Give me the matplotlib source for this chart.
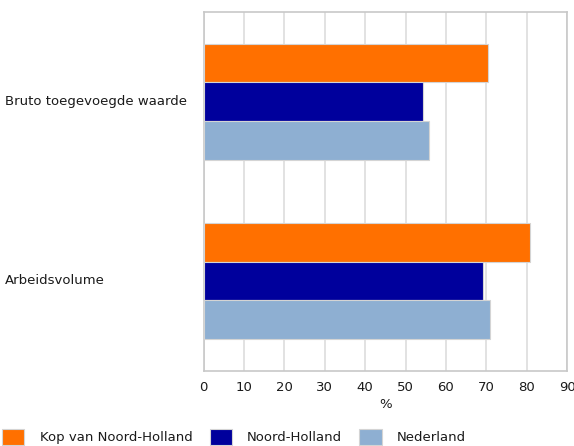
import numpy as np
import matplotlib
matplotlib.use("Agg")
import matplotlib.pyplot as plt
from matplotlib.patches import Patch

# ── Data ──────────────────────────────────────────────────────────────────────
categories = ["Bruto toegevoegde waarde", "Arbeidsvolume"]
series = ["Kop van Noord-Holland", "Noord-Holland", "Nederland"]
kop = [70.4, 80.9]
noord_holland = [54.3, 69.1]
nederland = [55.8, 70.9]
xticks = [0, 10, 20, 30, 40, 50, 60, 70, 80, 90]

# ── Style ─────────────────────────────────────────────────────────────────────
COLORS = ["#FF7000", "#00009C", "#8EAFD2"]
EDGE = "#D4D4D4"
GRID = "#DDDDDD"
SPINE = "#C8C8C8"
TEXT = "#1A1A1A"
FS = 9.5

W, H = 574, 446
fig = plt.figure(figsize=(W / 100, H / 100), dpi=100, facecolor="white")
ax = fig.add_axes([203.7 / W, (H - 370.5) / H, (567 - 203.7) / W, (370.5 - 12) / H])

y = np.arange(len(categories))
bh = 0.216
for i, vals in enumerate([kop, noord_holland, nederland]):
    ax.barh(y + (i - 1) * bh, vals, height=bh, color=COLORS[i],
            edgecolor=EDGE, linewidth=0.8, zorder=3)

ax.set_xlim(0, 90)
ax.set_ylim(1.5, -0.5)
ax.set_xticks(xticks)
ax.set_xticklabels([str(t) for t in xticks], fontsize=FS, color=TEXT)
ax.set_yticks(y)
ax.set_yticklabels(categories, fontsize=FS, color=TEXT, ha="left", va="center")
for lab in ax.get_yticklabels():
    lab.set_y(lab.get_position()[1])
ax.tick_params(axis="y", length=0, pad=143)
ax.tick_params(axis="x", length=0, pad=7.5)
ax.set_xlabel("%", fontsize=FS, color=TEXT, labelpad=3)

ax.grid(axis="x", color=GRID, linewidth=1.2, zorder=0)
ax.set_axisbelow(True)
for s in ax.spines.values():
    s.set_color(SPINE)
    s.set_linewidth(1.2)

handles = [Patch(facecolor=c, edgecolor=EDGE, linewidth=0.8) for c in COLORS]
fig.legend(handles, series, loc="lower left", bbox_to_anchor=(2 / W, 0.002),
           ncol=3, frameon=False, fontsize=FS, borderpad=0, borderaxespad=0,
           handlelength=1.7, handleheight=1.5, handletextpad=1.15,
           columnspacing=1.3, labelcolor=TEXT)

fig.savefig("out.png", dpi=100, facecolor="white")
